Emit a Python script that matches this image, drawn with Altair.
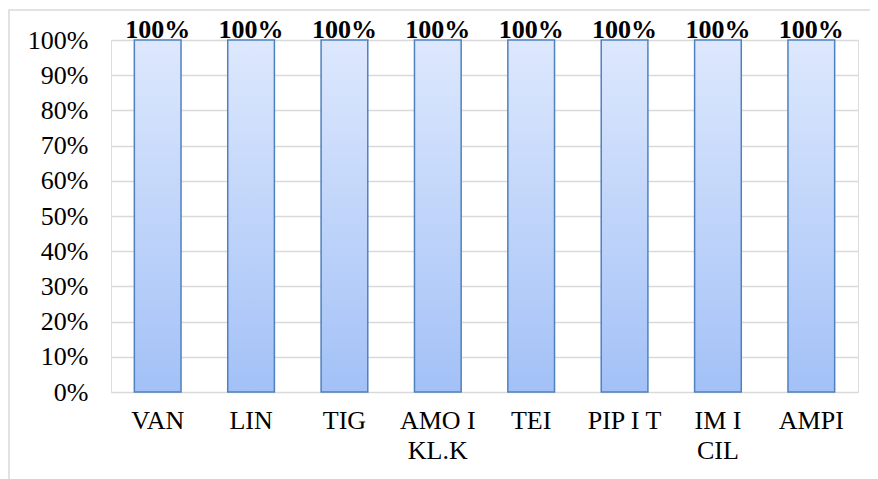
import altair as alt
import pandas as pd

categories = ["VAN", "LIN", "TIG", "AMO I|KL.K", "TEI", "PIP I T", "IM I|CIL", "AMPI"]
values = [1.0, 1.0, 1.0, 1.0, 1.0, 1.0, 1.0, 1.0]
y_ticks = [0, 0.1, 0.2, 0.3, 0.4, 0.5, 0.6, 0.7, 0.8, 0.9, 1.0]

df = pd.DataFrame({"cat": categories, "val": values})

FONT = "Liberation Serif"

x_enc = alt.X("cat:N", sort=categories,
              scale=alt.Scale(paddingInner=0.5, paddingOuter=0.25),
              axis=alt.Axis(title=None, labelAngle=0, labelFont=FONT, labelFontSize=26,
                            labelColor="#000000", labelPadding=15, ticks=False, domain=False,
                            labelExpr="split(datum.label, '|')", labelLineHeight=30,
                            labelBaseline="top", labelOverlap=False))
y_enc = alt.Y("val:Q", scale=alt.Scale(domain=[0, 1], nice=False),
              axis=alt.Axis(title=None, values=y_ticks, tickCount=20, format=".0%",
                            labelFont=FONT, labelFontSize=26, labelColor="#000000",
                            ticks=False, domain=False, labelPadding=23,
                            gridColor="#d9d9d9", gridWidth=1.5,
                            labelOverlap=False, labelFlush=False))

border = alt.Chart(pd.DataFrame({"a": [0]})).mark_rect(
    fill=None, stroke="#d9d9d9", strokeWidth=1.5
).encode(x=alt.value(-102), x2=alt.value(900), y=alt.value(-30), y2=alt.value(600))

bars = alt.Chart(df).mark_bar(
    stroke="#4f81bd", strokeWidth=1.5,
    color=alt.Gradient(gradient="linear", x1=0, x2=0, y1=0, y2=1,
                       stops=[alt.GradientStop(offset=0, color="#dde8fd"),
                              alt.GradientStop(offset=1, color="#a3c1f7")])
).encode(x=x_enc, y=y_enc)

labels = alt.Chart(df).mark_text(
    font=FONT, fontSize=26, fontWeight="bold", baseline="bottom", dy=3, color="#000000"
).encode(x=x_enc, y=y_enc, text=alt.Text("val:Q", format=".0%"))

chart = alt.layer(border, bars, labels).properties(
    width=747, height=352,
    padding={"left": 103, "top": 32, "right": 12, "bottom": 95},
    autosize=alt.AutoSizeParams(type="none"),
).configure_view(stroke=None).configure(background="white")

chart.save("out.html", embed_options={"renderer": "svg", "actions": False})
